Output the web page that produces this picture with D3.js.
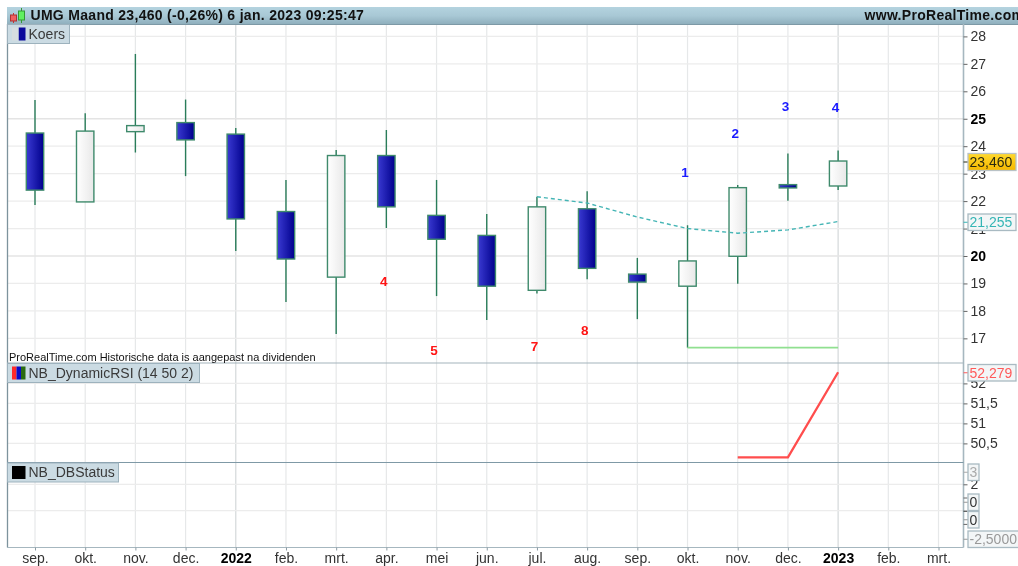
<!DOCTYPE html>
<html><head><meta charset="utf-8">
<script src="https://cdn.jsdelivr.net/npm/d3@7/dist/d3.min.js"></script>
<style>html,body{margin:0;padding:0;background:#fff;overflow:hidden}svg{display:block;filter:blur(0.35px)}text{font-family:"Liberation Sans",Arial,sans-serif}</style>
</head><body><svg id="c" width="1018" height="566"></svg>
<script>
const monthLabels=["sep.","okt.","nov.","dec.","2022","feb.","mrt.","apr.","mei","jun.","jul.","aug.","sep.","okt.","nov.","dec.","2023","feb.","mrt."];
const opens =[24.48,21.97,24.53,24.86,24.44,21.62,19.23,23.66,21.48,20.75,18.75,21.72,19.34,18.90,19.99,22.60,22.55];
const closes=[22.40,24.55,24.75,24.23,21.35,19.89,23.66,21.79,20.61,18.90,21.79,19.55,19.05,19.82,22.49,22.48,23.46];
const highs =[25.68,25.20,27.36,25.70,24.66,22.77,23.86,24.59,22.77,21.53,22.16,22.36,19.93,21.12,22.59,23.73,23.84];
const lows  =[21.86,21.97,23.77,22.91,20.18,18.32,17.16,21.02,18.54,17.67,18.63,19.15,17.70,16.66,18.99,22.01,22.40];
const dashIdx=[10,11,12,13,14,15,16];
const dashVals=[22.16,21.93,21.42,21.00,20.83,20.95,21.255];
const floorIdx=[13,16];
const floorVals=[16.66,16.66];
const rsiIdx=[14,15,16];
const rsiVals=[50.15,50.15,52.279];
const priceTicks=[17,18,19,20,21,22,23,24,25,26,27,28];
const rsiTicks=[50.5,51,51.5,52];
const statusTicks=[-1,0,1,2];
const statusGrid=[0,2];
const upLabels=[["1",13,22.99],["2",14,24.44],["3",15,25.43],["4",16,25.39]];
const downLabels=[["4",7,19.02],["5",8,16.54],["7",10,16.68],["8",11,17.27]];
const title="UMG Maand 23,460 (-0,26%) 6 jan. 2023 09:25:47";

const svg=d3.select("#c");
const L=7.5,R=963.5;
const x=d3.scaleLinear().domain([0,18]).range([35,938.5]);
const y=d3.scaleLinear().domain([20,28]).range([256,36.4]);
const yR=d3.scaleLinear().domain([51,52]).range([423.4,383.4]);
const yS=d3.scaleLinear().domain([0,2]).range([510.7,484.3]);
const fmt=v=>String(v).replace(".",",");

const defs=svg.append("defs");
function grad(id,stops,horizontal){const g=defs.append("linearGradient").attr("id",id)
  .attr("x1",0).attr("y1",0).attr("x2",horizontal?1:0).attr("y2",horizontal?0:1);
  stops.forEach((s,i)=>g.append("stop").attr("offset",i/(stops.length-1)).attr("stop-color",s));}
grad("bar",["#b4d3df","#a8c8d5","#8eaebc"],false);
grad("blue",["#3a3ad2","#00008c"],true);
grad("white",["#ffffff","#e8e8e8"],true);
grad("gold",["#ffd92e","#f5b800"],false);

// vertical grid
const gridX=monthLabels.map((m,i)=>i);
svg.append("g").selectAll("line").data(gridX).join("line")
  .attr("x1",d=>x(d)).attr("x2",d=>x(d)).attr("y1",24).attr("y2",547)
  .attr("stroke",(d,i)=>/^20/.test(monthLabels[i])?"#d4d8da":"#e6e8e9").attr("stroke-width",1.2);
// horizontal grids
function hgrid(ticks,scale){svg.append("g").selectAll("line").data(ticks).join("line")
  .attr("x1",L).attr("x2",R).attr("y1",d=>scale(d)).attr("y2",d=>scale(d))
  .attr("stroke",d=>(d===25||d===20)?"#e4e4e4":"#ececec").attr("stroke-width",d=>(d===25||d===20)?1.6:1.3);}
hgrid(priceTicks,y);hgrid(rsiTicks,yR);hgrid(statusGrid,yS);

// title bar
svg.append("rect").attr("x",7).attr("y",7).attr("width",1011).attr("height",17.5).attr("fill","url(#bar)");
svg.append("line").attr("x1",7).attr("x2",1018).attr("y1",24.5).attr("y2",24.5).attr("stroke","#7d99a6");
svg.append("text").attr("x",30.5).attr("y",19.5).attr("font-size",14).attr("letter-spacing",0.3).attr("font-weight","bold").attr("fill","#111").text(title);
svg.append("text").attr("x",864.5).attr("y",19.5).attr("font-size",14).attr("letter-spacing",0.3).attr("font-weight","bold").attr("fill","#111").text("www.ProRealTime.com");
// icon
const icon=svg.append("g");
icon.append("line").attr("x1",13.5).attr("x2",13.5).attr("y1",13).attr("y2",23).attr("stroke","#c33");
icon.append("rect").attr("x",10.5).attr("y",15).attr("width",6).attr("height",6).attr("fill","#f06060").attr("stroke","#a33");
icon.append("line").attr("x1",21.5).attr("x2",21.5).attr("y1",8).attr("y2",23).attr("stroke","#393");
icon.append("rect").attr("x",18.5).attr("y",11).attr("width",6).attr("height",9).attr("fill","#60f060").attr("stroke","#393");

// candles
const candles=svg.append("g").selectAll("g").data(opens.map((o,i)=>({i,o,c:closes[i],h:highs[i],l:lows[i]}))).join("g");
candles.append("line").attr("x1",d=>x(d.i)).attr("x2",d=>x(d.i)).attr("y1",d=>y(d.h)).attr("y2",d=>y(d.l))
  .attr("stroke","#2a7d5a").attr("stroke-width",1.4);
candles.append("rect").attr("x",d=>x(d.i)-8.7).attr("width",17.4)
  .attr("y",d=>y(Math.max(d.o,d.c))).attr("height",d=>Math.abs(y(d.o)-y(d.c)))
  .attr("fill",d=>d.c<d.o?"url(#blue)":"url(#white)").attr("stroke","#3f8a6c").attr("stroke-width",1.4);

// lines
const lineP=d3.line().x(d=>x(d[0])).y(d=>y(d[1]));
svg.append("path").attr("d",lineP(d3.zip(floorIdx,floorVals))).attr("fill","none").attr("stroke","#90e090").attr("stroke-width",1.7);
svg.append("path").attr("d",lineP(d3.zip(dashIdx,dashVals))).attr("fill","none").attr("stroke","#45b5b5").attr("stroke-width",1.4).attr("stroke-dasharray","4 3");
svg.append("path").attr("d",d3.line().x(d=>x(d[0])).y(d=>yR(d[1]))(d3.zip(rsiIdx,rsiVals))).attr("fill","none").attr("stroke","#ff4d4d").attr("stroke-width",2.3);

// numbered labels
function marks(data,col){svg.append("g").selectAll("text").data(data).join("text")
  .attr("x",d=>x(d[1])-2.5).attr("y",d=>y(d[2])).attr("text-anchor","middle").attr("dominant-baseline","middle")
  .attr("font-size",13.5).attr("font-weight","bold").attr("fill",col).text(d=>d[0]);}
marks(upLabels,"#1a1aff");marks(downLabels,"#ff1414");

// panel frames
[[L,L,24,547.5,"#7d939d",1.3],[R,R,24,547.5,"#a6b7bf",1.6]].forEach(a=>svg.append("line").attr("x1",a[0]).attr("x2",a[1]).attr("y1",a[2]).attr("y2",a[3]).attr("stroke",a[4]).attr("stroke-width",a[5]));
[[363,"#a3b4bc"],[462.5,"#7f99a6"],[547.5,"#a6b7bf"]].forEach(a=>svg.append("line").attr("x1",7).attr("x2",R).attr("y1",a[0]).attr("y2",a[0]).attr("stroke",a[1]).attr("stroke-width",1.2));

svg.append("text").attr("x",9).attr("y",360.5).attr("font-size",11).attr("fill","#111").text("ProRealTime.com  Historische data is aangepast na dividenden");

// legends
function legend(x0,y0,w,label,cols){
  svg.append("rect").attr("x",x0).attr("y",y0).attr("width",w).attr("height",19).attr("fill","#cbdbe3").attr("stroke","#9db2bd");
  const sw=13.5/cols.length;
  cols.forEach((c,i)=>svg.append("rect").attr("x",x0+4.5+i*sw).attr("y",y0+3).attr("width",sw).attr("height",13).attr("fill",c));
  svg.append("text").attr("x",x0+21).attr("y",y0+14).attr("font-size",14).attr("fill","#3a3a3a").text(label);
}
legend(7.5,24.5,62,"Koers",["#d6dde0","#0a0a9c"]);
legend(7.5,363.5,192,"NB_DynamicRSI (14 50 2)",["#ff2a2a","#0a0ac8","#2a6a10"]);
legend(7.5,463,111,"NB_DBStatus",["#000"]);

// right axes
function rightAxis(ticks,scale){
  const g=svg.append("g").attr("transform",`translate(${R},0)`)
    .call(d3.axisRight(scale).tickValues(ticks).tickSize(4).tickPadding(3).tickFormat(fmt));
  g.select(".domain").remove();
  g.selectAll("line").attr("stroke","#666");
  g.selectAll("text").attr("font-size",14).attr("fill","#333").attr("font-family","Liberation Sans")
    .attr("font-weight",d=>(d===25||d===20)?"bold":"normal");
  g.selectAll("text").filter(d=>d===25||d===20).attr("fill","#000");
  return g;
}
rightAxis(priceTicks,y);
rightAxis(rsiTicks,yR);
const sa=rightAxis(statusTicks,yS);
sa.selectAll(".tick").filter(d=>d===1||d===0||d===-1).select("text").remove();
sa.selectAll(".tick").filter(d=>d===0).select("line").attr("stroke","#222");

// value tags
function tag(x0,y0,w,h,txt,col,fill,st){
  svg.append("line").attr("x1",R).attr("x2",x0).attr("y1",y0+h/2).attr("y2",y0+h/2).attr("stroke",col==="#333"?"#999":col);
  svg.append("rect").attr("x",x0).attr("y",y0).attr("width",w).attr("height",h).attr("fill",fill).attr("stroke",st||"#a9bac2").attr("stroke-width",1.3);
  svg.append("text").attr("x",x0+1.5).attr("y",y0+h-3.5).attr("font-size",14).attr("fill",col).text(txt);
}
tag(968,153.5,48,17,"23,460","#2a2a10","url(#gold)","#b9c2c6");
tag(968,214,48,16.5,"21,255","#35b5b5","#f3f6f7");
tag(968,364.5,48,16.5,"52,279","#ff5a5a","#f3f6f7");
tag(968,464,11,16.5,"3","#aaa","#f3f6f7");
tag(968,494,11,16.5,"0","#333","#f3f6f7");
tag(968,511.5,11,16.5,"0","#333","#f3f6f7");
tag(968,531,52,16.5,"-2,5000","#999","#f3f6f7");

// bottom axis
const bg=svg.append("g").attr("transform","translate(0,547.5)").call(d3.axisBottom(x).tickValues(gridX).tickSize(3).tickPadding(3).tickFormat(i=>monthLabels[i]));
bg.select(".domain").remove();
bg.selectAll("line").attr("stroke","#8a9aa2");
bg.selectAll("text").attr("font-size",14).attr("fill","#333").attr("font-family","Liberation Sans")
  .attr("font-weight",i=>/^20/.test(monthLabels[i])?"bold":"normal");
bg.selectAll("text").filter(i=>/^20/.test(monthLabels[i])).attr("fill","#000");
</script></body></html>
